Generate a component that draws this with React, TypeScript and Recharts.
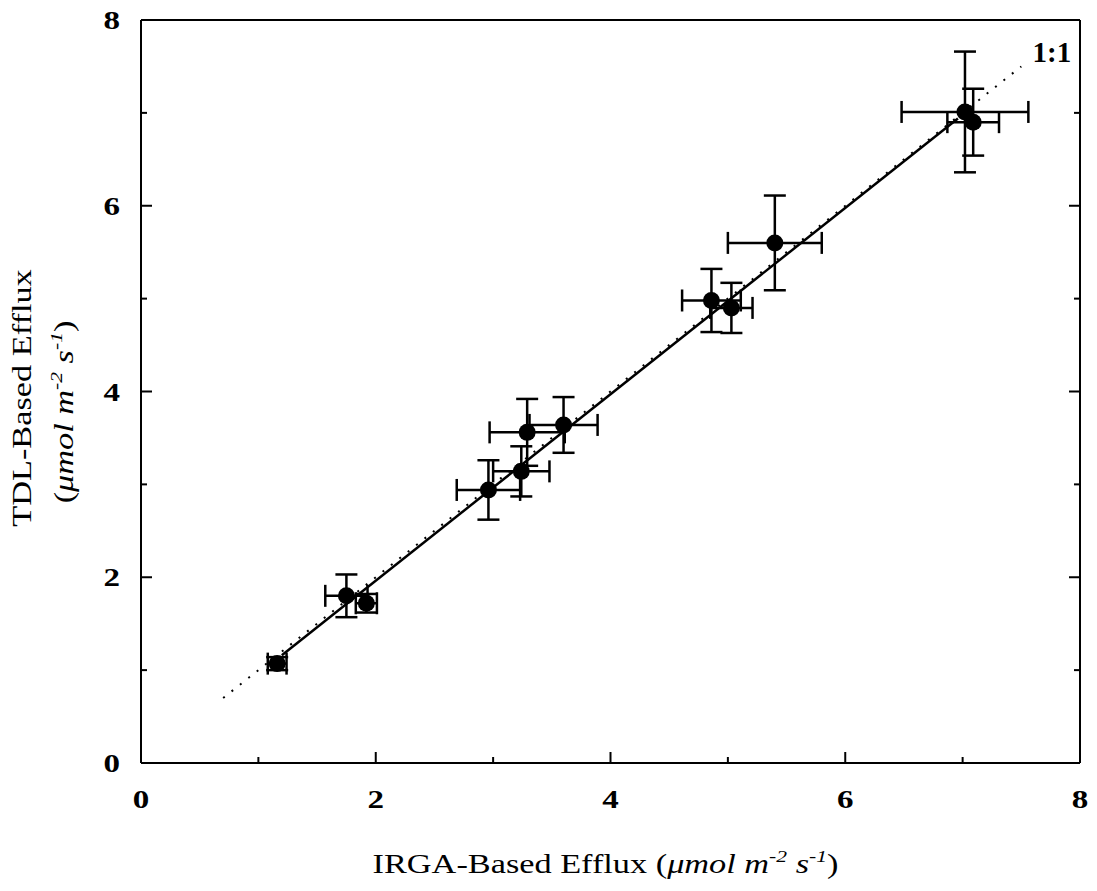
import React from "react";
import {
	ErrorBar,
	Label,
	ReferenceDot,
	ReferenceLine,
	Scatter,
	ScatterChart,
	XAxis,
	YAxis,
} from "recharts";

// IRGA vs TDL efflux, with standard errors on both axes
const irga = [1.16, 1.75, 1.92, 2.96, 3.24, 3.29, 3.6, 4.86, 5.03, 5.4, 7.02, 7.09];
const tdl = [1.07, 1.8, 1.72, 2.94, 3.14, 3.56, 3.64, 4.98, 4.9, 5.6, 7.01, 6.9];
const irgaErr = [0.08, 0.18, 0.09, 0.27, 0.24, 0.32, 0.29, 0.25, 0.18, 0.4, 0.54, 0.22];
const tdlErr = [0.07, 0.23, 0.1, 0.32, 0.27, 0.36, 0.3, 0.34, 0.27, 0.51, 0.65, 0.36];

const axisTicks = [0, 1, 2, 3, 4, 5, 6, 7, 8];
const tickLabels = ["0", "", "2", "", "4", "", "6", "", "8"];

const oneToOne = [0.7, 7.5];
const fitStart = [1.2, 1.16];
const fitEnd = [6.96, 6.94];
const oneToOneLabelAt = [7.76, 7.55];

const data = irga.map((x, i) => ({ x, y: tdl[i], ex: irgaErr[i], ey: tdlErr[i] }));

const FONT = '"Liberation Serif", "Times New Roman", serif';
const MAJOR = 11;
const MINOR = 6;
const STRETCH = 1.27; // the scanned type is wider than Liberation Serif

const labelFor = (v: number) => tickLabels[axisTicks.indexOf(v)] ?? "";

function BottomTick({ x, y, payload }: any) {
	const major = payload.value % 2 === 0;
	return (
		<g>
			<line x1={x} y1={y} x2={x} y2={y - (major ? MAJOR : MINOR)} stroke="#000" strokeWidth={2} />
			{major && (
				<text
					transform={`translate(${x}, ${y + 45}) scale(${STRETCH}, 1)`}
					textAnchor="middle"
					fontFamily={FONT}
					fontWeight="bold"
					fontSize={26}
					fill="#000"
				>
					{labelFor(payload.value)}
				</text>
			)}
		</g>
	);
}

function TopTick({ x, y, payload }: any) {
	const major = payload.value % 2 === 0;
	return <line x1={x} y1={y} x2={x} y2={y + (major ? MAJOR : MINOR)} stroke="#000" strokeWidth={2} />;
}

function LeftTick({ x, y, payload }: any) {
	const major = payload.value % 2 === 0;
	return (
		<g>
			<line x1={x} y1={y} x2={x + (major ? MAJOR : MINOR)} y2={y} stroke="#000" strokeWidth={2} />
			{major && (
				<text
					transform={`translate(${x - 21}, ${y + 9}) scale(${STRETCH}, 1)`}
					textAnchor="end"
					fontFamily={FONT}
					fontWeight="bold"
					fontSize={26}
					fill="#000"
				>
					{labelFor(payload.value)}
				</text>
			)}
		</g>
	);
}

function RightTick({ x, y, payload }: any) {
	const major = payload.value % 2 === 0;
	return <line x1={x} y1={y} x2={x - (major ? MAJOR : MINOR)} y2={y} stroke="#000" strokeWidth={2} />;
}

function XTitle({ viewBox }: any) {
	const { x, y, width } = viewBox;
	const cx = x + width / 2 - 5;
	const by = y + 110;
	return (
		<text
			transform={`translate(${cx}, ${by}) scale(${STRETCH}, 1)`}
			textAnchor="middle"
			fontFamily={FONT}
			fontSize={27}
			fill="#000"
		>
			IRGA-Based Efflux (
			<tspan fontStyle="italic">μmol m</tspan>
			<tspan fontStyle="italic" fontSize={17} dy={-11}>-2</tspan>
			<tspan fontStyle="italic" dy={11}> s</tspan>
			<tspan fontStyle="italic" fontSize={17} dy={-11}>-1</tspan>
			<tspan dy={11}>)</tspan>
		</text>
	);
}

function YTitle({ viewBox }: any) {
	const { y, height } = viewBox;
	const mid = y + height / 2;
	return (
		<g fontFamily={FONT} fontSize={27} fill="#000">
			<text textAnchor="middle" transform={`translate(31, ${mid + 6.5}) rotate(-90) scale(${STRETCH}, 1)`}>
				TDL-Based Efflux
			</text>
			<text textAnchor="middle" transform={`translate(73, ${mid + 20.5}) rotate(-90) scale(${STRETCH}, 1)`}>
				(<tspan fontStyle="italic">μmol m</tspan>
				<tspan fontStyle="italic" fontSize={17} dy={-11}>-2</tspan>
				<tspan fontStyle="italic" dy={11}>{"  "}s</tspan>
				<tspan fontStyle="italic" fontSize={17} dy={-11}>-1</tspan>
				<tspan dy={11}>)</tspan>
			</text>
		</g>
	);
}

const Dot = ({ cx, cy }: any) => <circle cx={cx} cy={cy} r={8.5} fill="#000" />;

const RatioLabel = ({ cx, cy }: any) => (
	<text x={cx} y={cy} textAnchor="middle" fontFamily={FONT} fontWeight="bold" fontSize={29} fill="#000">
		1:1
	</text>
);

export default function App() {
	return (
		<div style={{ position: "absolute", left: 0, top: 0, width: 1097, height: 891, overflow: "hidden" }}>
			<ScatterChart width={1097} height={891} margin={{ top: 19, right: 16, bottom: 0, left: 0 }}>
				<XAxis
					xAxisId={0}
					type="number"
					dataKey="x"
					domain={[0, 8]}
					ticks={axisTicks}
					interval={0}
					tickSize={0}
					tickMargin={0}
					height={128}
					axisLine={{ stroke: "#000", strokeWidth: 2 }}
					tick={<BottomTick />}
					allowDataOverflow
				>
					<Label content={(p: any) => <XTitle {...p} />} />
				</XAxis>
				<XAxis
					xAxisId="top"
					orientation="top"
					type="number"
					domain={[0, 8]}
					ticks={axisTicks}
					interval={0}
					tickSize={0}
					tickMargin={0}
					height={1}
					axisLine={{ stroke: "#000", strokeWidth: 2 }}
					tick={<TopTick />}
					allowDataOverflow
				/>
				<YAxis
					yAxisId={0}
					type="number"
					dataKey="y"
					domain={[0, 8]}
					ticks={axisTicks}
					interval={0}
					tickSize={0}
					tickMargin={0}
					width={141}
					axisLine={{ stroke: "#000", strokeWidth: 2 }}
					tick={<LeftTick />}
					allowDataOverflow
				>
					<Label content={(p: any) => <YTitle {...p} />} />
				</YAxis>
				<YAxis
					yAxisId="right"
					orientation="right"
					type="number"
					domain={[0, 8]}
					ticks={axisTicks}
					interval={0}
					tickSize={0}
					tickMargin={0}
					width={1}
					axisLine={{ stroke: "#000", strokeWidth: 2 }}
					tick={<RightTick />}
					allowDataOverflow
				/>
				<ReferenceLine
					segment={[
						{ x: oneToOne[0], y: oneToOne[0] },
						{ x: oneToOne[1], y: oneToOne[1] },
					]}
					stroke="#000"
					strokeWidth={2}
					strokeDasharray="2 8.7"
				/>
				<ReferenceLine
					segment={[
						{ x: fitStart[0], y: fitStart[1] },
						{ x: fitEnd[0], y: fitEnd[1] },
					]}
					stroke="#000"
					strokeWidth={2.5}
				/>
				<Scatter data={data} shape={<Dot />} isAnimationActive={false}>
					<ErrorBar dataKey="ex" direction="x" width={11} stroke="#000" strokeWidth={2.5} />
					<ErrorBar dataKey="ey" direction="y" width={11} stroke="#000" strokeWidth={2.5} />
				</Scatter>
				<ReferenceDot x={oneToOneLabelAt[0]} y={oneToOneLabelAt[1]} r={0} shape={<RatioLabel />} />
			</ScatterChart>
		</div>
	);
}
